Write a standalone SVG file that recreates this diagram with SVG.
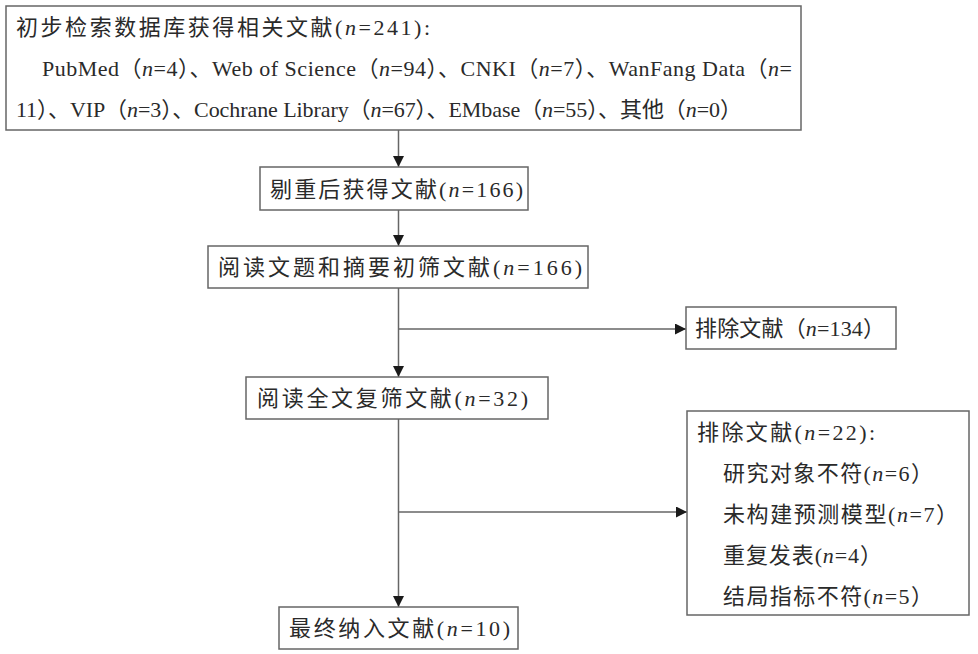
<svg xmlns="http://www.w3.org/2000/svg" width="978" height="654" viewBox="0 0 978 654">
<style>
.box{fill:#fff;stroke:#666;stroke-width:1.5}
.t{font-family:"Liberation Serif","Noto Sans CJK SC",serif;font-size:22px;fill:#2a2a2a}
.i{font-style:italic}
.c{stroke:#666;stroke-width:1.5;fill:none}
</style>
<defs>
<marker id="ah" markerUnits="userSpaceOnUse" markerWidth="12" markerHeight="12" refX="11" refY="5.5" orient="auto">
<path d="M0,0 L11,5.5 L0,11 z" fill="#1a1a1a"/>
</marker>
</defs>
<rect width="978" height="654" fill="#fff"/>
<g id="connectors">
<line class="c" x1="398.5" y1="130" x2="398.5" y2="167" marker-end="url(#ah)"/>
<line class="c" x1="398.5" y1="210" x2="398.5" y2="246" marker-end="url(#ah)"/>
<line class="c" x1="398.5" y1="288" x2="398.5" y2="377" marker-end="url(#ah)"/>
<line class="c" x1="398.5" y1="329" x2="686" y2="329" marker-end="url(#ah)"/>
<line class="c" x1="398.5" y1="419" x2="398.5" y2="607" marker-end="url(#ah)"/>
<line class="c" x1="398.5" y1="512" x2="687" y2="512" marker-end="url(#ah)"/>
</g>
<g id="search">
<rect class="box" x="6" y="6" width="795" height="124"/>
<text class="t" x="16" y="35" textLength="414" lengthAdjust="spacing">初步检索数据库获得相关文献(<tspan class="i">n</tspan>=241):</text>
<text class="t" x="42" y="76" textLength="750" lengthAdjust="spacing">PubMed（<tspan class="i">n</tspan>=4）、Web of Science（<tspan class="i">n</tspan>=94）、CNKI（<tspan class="i">n</tspan>=7）、WanFang Data（<tspan class="i">n</tspan>=</text>
<text class="t" x="16" y="117" textLength="726" lengthAdjust="spacing">11）、VIP（<tspan class="i">n</tspan>=3）、Cochrane Library（<tspan class="i">n</tspan>=67）、EMbase（<tspan class="i">n</tspan>=55）、其他（<tspan class="i">n</tspan>=0）</text>
</g>
<g id="dedup">
<rect class="box" x="260" y="167" width="268" height="43"/>
<text class="t" x="270" y="197" textLength="253" lengthAdjust="spacing">剔重后获得文献(<tspan class="i">n</tspan>=166)</text>
</g>
<g id="screen">
<rect class="box" x="208" y="246" width="380" height="42"/>
<text class="t" x="218" y="275" textLength="364" lengthAdjust="spacing">阅读文题和摘要初筛文献(<tspan class="i">n</tspan>=166)</text>
</g>
<g id="excl1">
<rect class="box" x="686" y="307" width="210" height="42"/>
<text class="t" x="695" y="336" textLength="190" lengthAdjust="spacing">排除文献（<tspan class="i">n</tspan>=134）</text>
</g>
<g id="fulltext">
<rect class="box" x="246" y="377" width="302" height="42"/>
<text class="t" x="257" y="406" textLength="271" lengthAdjust="spacing">阅读全文复筛文献(<tspan class="i">n</tspan>=32)</text>
</g>
<g id="excl2">
<rect class="box" x="687" y="411" width="282" height="204"/>
<text class="t" x="697" y="440" textLength="178" lengthAdjust="spacing">排除文献(<tspan class="i">n</tspan>=22):</text>
<text class="t" x="723" y="481" textLength="210" lengthAdjust="spacing">研究对象不符(<tspan class="i">n</tspan>=6）</text>
<text class="t" x="723" y="522" textLength="235" lengthAdjust="spacing">未构建预测模型(<tspan class="i">n</tspan>=7）</text>
<text class="t" x="723" y="563" textLength="159" lengthAdjust="spacing">重复发表(<tspan class="i">n</tspan>=4）</text>
<text class="t" x="723" y="604" textLength="210" lengthAdjust="spacing">结局指标不符(<tspan class="i">n</tspan>=5）</text>
</g>
<g id="final">
<rect class="box" x="279" y="607" width="239" height="42"/>
<text class="t" x="289" y="636" textLength="221" lengthAdjust="spacing">最终纳入文献(<tspan class="i">n</tspan>=10)</text>
</g>
</svg>
